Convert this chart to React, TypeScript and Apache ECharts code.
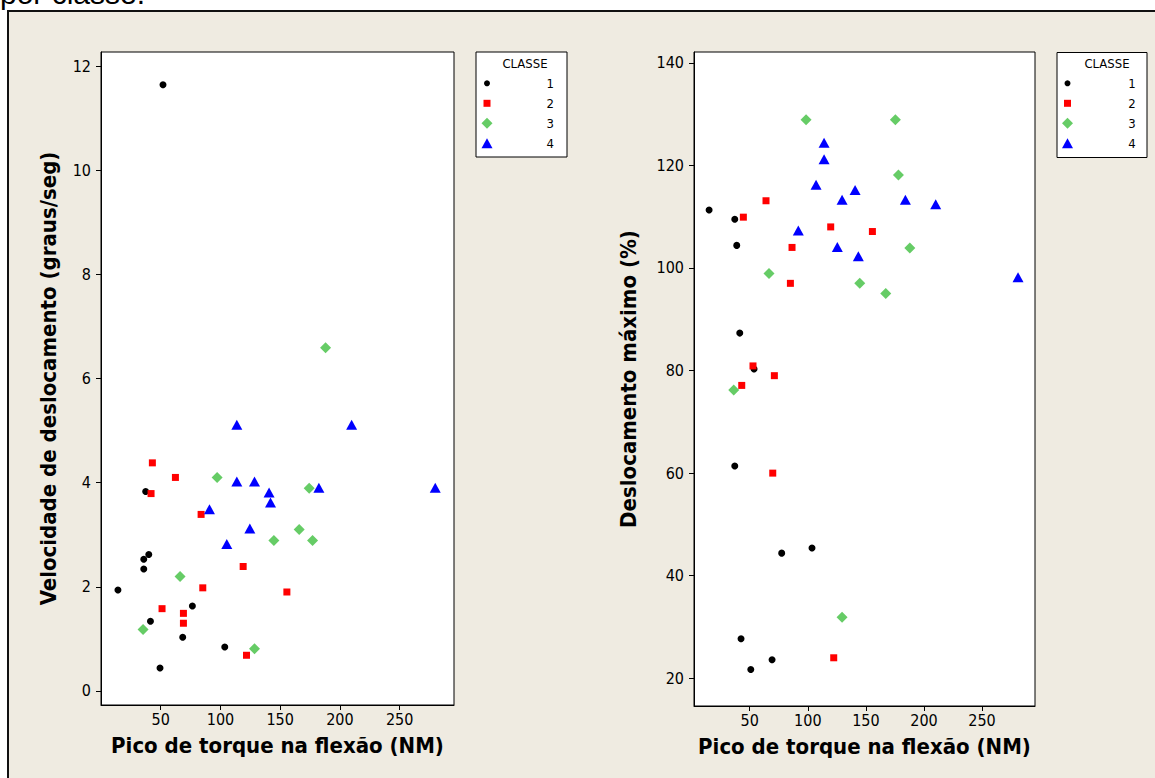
import React, { useEffect, useRef } from "react";
import * as echarts from "echarts";

// ---- Data: left plot (Velocidade de deslocamento vs Pico de torque)
const c1TorqueA = [51.9, 37.4, 40, 35.8, 35.8, 14.2, 76.5, 41.4, 68.4, 103.6, 49.4];
const c1Vel = [11.64, 3.83, 2.62, 2.53, 2.34, 1.94, 1.63, 1.34, 1.03, 0.845, 0.44];
const c2TorqueA = [43, 62.3, 41.9, 83.8, 119, 85.2, 155.6, 51.1, 69, 69, 121.8];
const c2Vel = [4.38, 4.1, 3.79, 3.39, 2.39, 1.98, 1.9, 1.58, 1.49, 1.3, 0.685];
const c3TorqueA = [188, 97.2, 174.3, 165.9, 144.7, 177.1, 66.2, 35.2, 128.5];
const c3Vel = [6.59, 4.1, 3.89, 3.1, 2.89, 2.89, 2.2, 1.18, 0.81];
const c4TorqueA = [113.7, 209.8, 113.7, 128.5, 140.7, 182.4, 279.8, 141.9, 90.8, 124.6, 105.3];
const c4Vel = [5.11, 5.11, 4.02, 4.02, 3.81, 3.9, 3.9, 3.62, 3.49, 3.12, 2.82];

// ---- Data: right plot (Deslocamento máximo vs Pico de torque)
const c1TorqueB = [15, 37.1, 38.8, 41.4, 53.7, 37.1, 77.5, 103.6, 42.5, 69.2, 50.9];
const c1Desl = [111.3, 109.5, 104.4, 87.3, 80.3, 61.4, 44.4, 45.4, 27.7, 23.6, 21.7];
const c2TorqueB = [64, 44.5, 119.7, 155.6, 86.4, 85, 52.8, 71.2, 43.1, 69.8, 122.3];
const c2Desl = [113.1, 109.9, 108.0, 107.1, 104.0, 97.0, 80.9, 79.0, 77.1, 60.0, 24.0];
const c3TorqueB = [98.5, 175.4, 178, 187.8, 66.6, 144.7, 167.1, 36.2, 129.5];
const c3Desl = [128.9, 128.9, 118.1, 103.9, 98.9, 97.0, 95.0, 76.2, 31.9];
const c4TorqueB = [114, 114, 107.1, 140.7, 129.5, 184, 210.1, 91.8, 125.4, 143.5, 281];
const c4Desl = [124.4, 121.2, 116.2, 115.2, 113.3, 113.3, 112.4, 107.3, 104.1, 102.3, 98.2];

// ---- Ticks / labels
const xTicks = [50, 100, 150, 200, 250];
const yTicksVel = [0, 2, 4, 6, 8, 10, 12];
const yTicksDesl = [20, 40, 60, 80, 100, 120, 140];
const classNames = ["1", "2", "3", "4"];
const legendTitle = "CLASSE";
const xTitle = "Pico de torque na flexão (NM)";
const yTitleA = "Velocidade de deslocamento (graus/seg)";
const yTitleB = "Deslocamento máximo (%)";
const topText = "por classe.";

const FONT = "'DejaVu Sans Condensed', 'DejaVu Sans', sans-serif";
const colors = ["#000000", "#FF0000", "#66CC66", "#0000FF"];
const symbols = ["circle", "rect", "diamond", "triangle"];
const symbolSizes = [7, 7, 11, [11, 10]];

const zip = (xs: number[], ys: number[]) => xs.map((x, i) => [x, ys[i]]);

function xAxisCfg(grid: number, min: number, max: number) {
  return {
    type: "value",
    gridIndex: grid,
    min,
    max,
    name: xTitle,
    nameLocation: "middle",
    nameGap: 29,
    nameTextStyle: { fontFamily: FONT, fontWeight: "bold", fontSize: 22, color: "#000" },
    axisLine: { show: true, onZero: false, lineStyle: { color: "#000", width: 1 } },
    axisTick: { show: true, length: 5, inside: false, customValues: xTicks, lineStyle: { color: "#000" } },
    axisLabel: { customValues: xTicks, fontFamily: FONT, fontSize: 16, color: "#000", margin: 6 },
    splitLine: { show: false },
  };
}

function yAxisCfg(grid: number, min: number, max: number, ticks: number[], name: string, gap: number) {
  return {
    type: "value",
    gridIndex: grid,
    min,
    max,
    name,
    nameLocation: "middle",
    nameGap: gap,
    nameTextStyle: { fontFamily: FONT, fontWeight: "bold", fontSize: 22, color: "#000" },
    axisLine: { show: true, onZero: false, lineStyle: { color: "#000", width: 1 } },
    axisTick: { show: true, length: 5, inside: false, customValues: ticks, lineStyle: { color: "#000" } },
    axisLabel: { customValues: ticks, fontFamily: FONT, fontSize: 16, color: "#000", margin: 10 },
    splitLine: { show: false },
  };
}

function legendGraphics(boxX: number, boxY: number, boxW: number, boxH: number, symX: number, numX: number, titleX: number) {
  const rows = [83.3, 103.3, 123.3, 143.3];
  const els: any[] = [
    { type: "rect", shape: { x: boxX, y: boxY, width: boxW, height: boxH }, style: { fill: "#fff", stroke: "#000", lineWidth: 1 } },
    { type: "text", x: titleX, y: 63, style: { text: legendTitle, font: `13px ${FONT}`, fill: "#000", align: "center", verticalAlign: "middle" } },
  ];
  rows.forEach((ry, i) => {
    if (i === 0) els.push({ type: "circle", shape: { cx: symX, cy: ry, r: 3 }, style: { fill: colors[0] } });
    if (i === 1) els.push({ type: "rect", shape: { x: symX - 3.5, y: ry - 3.5, width: 7, height: 7 }, style: { fill: colors[1] } });
    if (i === 2) els.push({ type: "polygon", shape: { points: [[symX, ry - 5.5], [symX + 5.5, ry], [symX, ry + 5.5], [symX - 5.5, ry]] }, style: { fill: colors[2] } });
    if (i === 3) els.push({ type: "polygon", shape: { points: [[symX, ry - 5], [symX + 5.5, ry + 5], [symX - 5.5, ry + 5]] }, style: { fill: colors[3] } });
    els.push({ type: "text", x: numX, y: ry, style: { text: classNames[i], font: `13px ${FONT}`, fill: "#000", align: "right", verticalAlign: "middle" } });
  });
  return els;
}

export default function App() {
  const ref = useRef<HTMLDivElement>(null);
  useEffect(() => {
    if (!ref.current) return;
    const chart = echarts.init(ref.current, undefined, { renderer: "svg" });
    const dataA = [zip(c1TorqueA, c1Vel), zip(c2TorqueA, c2Vel), zip(c3TorqueA, c3Vel), zip(c4TorqueA, c4Vel)];
    const dataB = [zip(c1TorqueB, c1Desl), zip(c2TorqueB, c2Desl), zip(c3TorqueB, c3Desl), zip(c4TorqueB, c4Desl)];
    const series: any[] = [];
    [dataA, dataB].forEach((set, g) => {
      set.forEach((d, i) => {
        series.push({
          type: "scatter",
          name: classNames[i],
          xAxisIndex: g,
          yAxisIndex: g,
          data: d,
          symbol: symbols[i],
          symbolSize: symbolSizes[i],
          itemStyle: { color: colors[i], opacity: 1 },
          emphasis: { disabled: true },
        });
      });
    });
    chart.setOption({
      animation: false,
      backgroundColor: "transparent",
      grid: [
        { left: 101, top: 52, width: 353, height: 653, show: true, backgroundColor: "#fff", borderColor: "#000", borderWidth: 1 },
        { left: 694, top: 52, width: 341, height: 654, show: true, backgroundColor: "#fff", borderColor: "#000", borderWidth: 1 },
      ],
      xAxis: [xAxisCfg(0, 0, 295.5), xAxisCfg(1, 2, 295.6)],
      yAxis: [
        yAxisCfg(0, -0.27, 12.27, yTicksVel, yTitleA, 42),
        yAxisCfg(1, 14.6, 142.1, yTicksDesl, yTitleB, 55),
      ],
      series,
      graphic: [
        { type: "text", x: 0, y: -7, style: { text: topText, font: "30px 'Liberation Sans', Arial, sans-serif", fill: "#000", verticalAlign: "middle" } },
        ...legendGraphics(476, 52, 91, 105, 487, 554, 525),
        ...legendGraphics(1057, 52.5, 90, 105, 1067.5, 1135.7, 1107),
      ],
    });
    return () => chart.dispose();
  }, []);
  return (
    <div style={{ position: "fixed", left: 0, top: 0, width: 1155, height: 778, background: "#fff", overflow: "hidden" }}>
      <div
        style={{
          position: "absolute",
          left: 7,
          top: 10,
          width: 1200,
          height: 820,
          border: "2px solid #111",
          background: "#EFEBE1",
          boxSizing: "border-box",
        }}
      />
      <div ref={ref} style={{ position: "absolute", left: 0, top: 0, width: 1155, height: 778 }} />
    </div>
  );
}
